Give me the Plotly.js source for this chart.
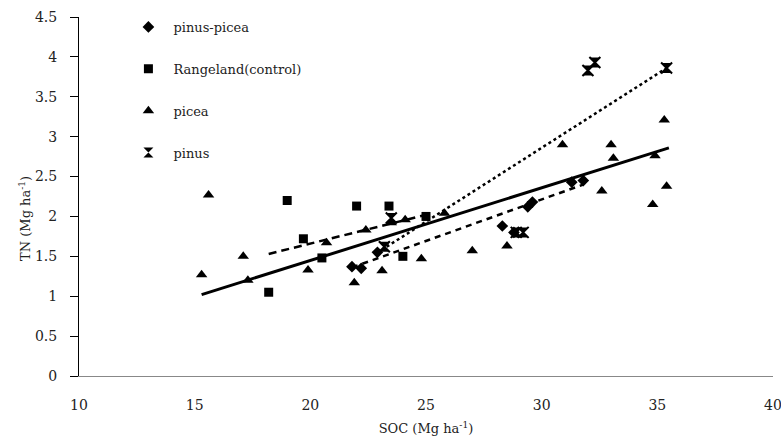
<!DOCTYPE html>
<html>
<head>
<meta charset="utf-8">
<script src="https://cdn.plot.ly/plotly-3.0.1.min.js"></script>
<style>html,body{margin:0;padding:0;background:#fff;}#chart{width:781px;height:445px;}</style>
</head>
<body>
<div id="chart"></div>
<script>
// Series names
const seriesNames = ["pinus-picea", "Rangeland(control)", "picea", "pinus"];

// pinus-picea (diamonds)
const pinusPiceaX = [21.8, 22.2, 22.9, 28.3, 28.8, 29.4, 29.6, 31.3, 31.8];
const pinusPiceaY = [1.37, 1.35, 1.55, 1.88, 1.80, 2.12, 2.18, 2.43, 2.45];

// Rangeland(control) (squares)
const rangeX = [18.2, 19.0, 19.7, 20.5, 22.0, 23.4, 24.0, 25.0];
const rangeY = [1.05, 2.20, 1.72, 1.48, 2.13, 2.13, 1.50, 2.00];

// picea (triangles)
const piceaX = [15.3, 15.6, 17.1, 17.3, 19.9, 20.7, 21.9, 22.4, 23.1, 23.5, 24.1, 24.8, 25.8, 27.0, 28.5, 30.9, 32.6, 33.0, 33.1, 34.8, 34.9, 35.3, 35.4];
const piceaY = [1.27, 2.27, 1.50, 1.20, 1.33, 1.67, 1.17, 1.83, 1.32, 1.92, 1.96, 1.47, 2.04, 1.57, 1.63, 2.90, 2.32, 2.90, 2.73, 2.15, 2.76, 3.21, 2.38];

// pinus (stars)
const pinusX = [23.2, 23.5, 28.9, 29.2, 32.0, 32.3, 35.4];
const pinusY = [1.62, 1.98, 1.80, 1.80, 3.83, 3.93, 3.86];

// Trend lines (end points)
const trendPinusPiceaX = [21.8, 31.8];
const trendPinusPiceaY = [1.36, 2.40];
const trendRangeX = [18.2, 25.0];
const trendRangeY = [1.53, 2.02];
const trendPiceaX = [15.3, 35.5];
const trendPiceaY = [1.02, 2.86];
const trendPinusX = [23.3, 35.4];
const trendPinusY = [1.62, 3.86];

// Axis ticks
const xTicks = [10, 15, 20, 25, 30, 35, 40];
const yTicks = [0, 0.5, 1, 1.5, 2, 2.5, 3, 3.5, 4, 4.5];

const black = "#000";
const serif = "DejaVu Serif, serif";
const textColor = "#222";

const data = [
  {x: pinusPiceaX, y: pinusPiceaY, name: seriesNames[0], mode: "markers", type: "scatter", legendgroup: "a",
   marker: {symbol: "diamond", size: 9, color: black}},
  {x: rangeX, y: rangeY, name: seriesNames[1], mode: "markers", type: "scatter", legendgroup: "b",
   marker: {symbol: "square", size: 9, color: black}},
  {x: piceaX, y: piceaY, name: seriesNames[2], mode: "markers", type: "scatter", legendgroup: "c",
   marker: {symbol: "triangle-up", size: 10, color: black}},
  {x: pinusX, y: pinusY, name: seriesNames[3], mode: "markers", type: "scatter", legendgroup: "d",
   marker: {symbol: "hourglass", size: 10, color: black}},
  {x: pinusX, y: pinusY, mode: "markers", type: "scatter", showlegend: false, hoverinfo: "skip",
   marker: {symbol: "x-thin-open", size: 11, color: black, line: {color: black, width: 2}}},
  {x: trendPinusPiceaX, y: trendPinusPiceaY, mode: "lines", type: "scatter", showlegend: false,
   line: {color: black, width: 2.5, dash: "6px,5px"}},
  {x: trendRangeX, y: trendRangeY, mode: "lines", type: "scatter", showlegend: false,
   line: {color: black, width: 2.5, dash: "8px,5px"}},
  {x: trendPiceaX, y: trendPiceaY, mode: "lines", type: "scatter", showlegend: false,
   line: {color: black, width: 3}},
  {x: trendPinusX, y: trendPinusY, mode: "lines", type: "scatter", showlegend: false,
   line: {color: black, width: 2.5, dash: "dot"}}
];

const layout = {
  width: 781, height: 445,
  margin: {l: 79, r: 8, t: 17, b: 69},
  paper_bgcolor: "#fff", plot_bgcolor: "#fff",
  font: {family: serif, size: 13, color: textColor},
  showlegend: true,
  legend: {x: 0.064, y: 1.014, xanchor: "left", yanchor: "top", bgcolor: "rgba(0,0,0,0)",
           font: {family: serif, size: 13, color: textColor}, tracegroupgap: 22, itemwidth: 40},
  xaxis: {range: [10, 40], tickvals: xTicks, ticktext: xTicks.map(String), showgrid: false, zeroline: false,
          showline: true, linecolor: "#888", linewidth: 1, ticks: "", ticklen: 0, ticklabelstandoff: 16,
          ticklabeloverflow: "allow",
          tickfont: {family: serif, size: 14, color: textColor},
          title: {text: "SOC (Mg ha<sup>-1</sup>)", font: {family: serif, size: 13, color: textColor}, standoff: 12}},
  yaxis: {range: [0, 4.5], tickvals: yTicks, ticktext: yTicks.map(String), showgrid: false, zeroline: false,
          showline: true, linecolor: "#000", linewidth: 1, ticks: "outside", ticklen: 8, tickcolor: "#000",
          ticklabelstandoff: 10,
          tickfont: {family: serif, size: 14, color: textColor}},
  annotations: [
    {text: "TN (Mg ha<sup>-1</sup>)", xref: "paper", yref: "paper", x: -0.078, y: 0.44, xanchor: "center", yanchor: "middle",
     textangle: -90, showarrow: false, font: {family: serif, size: 13, color: textColor}}
  ]
};

Plotly.newPlot("chart", data, layout, {displayModeBar: false, staticPlot: true});
</script>
</body>
</html>
